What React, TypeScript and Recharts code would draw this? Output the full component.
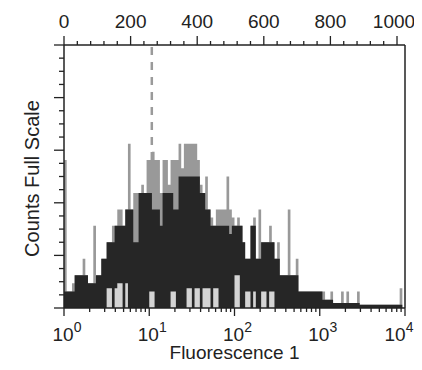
import { ComposedChart, Area, XAxis, YAxis, ReferenceLine, Label } from 'recharts';

// histogram, 32 bins per decade from 10^0 to 10^4
const binsPerDecade = 32;

const bodyCounts = [
  1, 1, 1, 1, 2, 2, 2, 2, 2, 1.5, 1.5, 1.5, 2, 2, 3, 3,
  4, 4, 4, 5, 5, 5, 5, 6, 6, 6, 4, 4, 7, 7, 7, 7,
  7, 6, 6, 6, 5, 7, 7, 7, 7, 6, 6, 8, 8, 8, 8, 8,
  8, 8, 8, 7, 7, 6, 6, 5, 5, 5, 5, 5, 5, 5, 4.5, 5,
  5, 5, 5, 4, 3, 3, 5, 5, 3, 3, 4, 4, 4, 4, 4, 3,
  3, 2, 2, 2, 2, 2, 2, 2, 1, 1, 1, 1, 1, 1, 1, 1,
  1, 0.5, 0.5, 0.5, 0.5, 0.3, 0.3, 0.3, 0.3, 0.3, 0.3, 0.3, 0.3, 0.3, 0.3, 0.2,
  0.2, 0.2, 0.2, 0.2, 0.2, 0.2, 0.2, 0.2, 0.2, 0.2, 0.2, 0.2, 0.2, 0.2, 0.2, 0,
];

const spikeCounts = [
  9, 1, 1, 1.5, 2, 2, 2, 3, 2, 1.5, 1.5, 5, 2, 2, 3, 3,
  4, 4, 5, 5, 6, 6, 5, 6, 10, 6, 7, 7, 7, 7.5, 7, 9,
  9, 9.5, 9, 9, 7, 9, 9, 7.5, 9, 9, 9, 10, 8.5, 10, 10, 10,
  10, 10, 9, 7.5, 7, 8, 6, 5.5, 5, 6, 6, 6, 6, 8, 6, 5.5,
  5, 5.5, 5, 4, 3, 3, 5, 5.5, 3, 6, 4, 4, 4, 5, 4, 3,
  4, 2, 2, 2, 6, 2, 2, 3, 1, 1, 1, 1, 1, 1, 1, 1,
  1, 1, 0.5, 0.5, 1, 0.3, 0.3, 0.3, 1, 0.3, 1, 0.3, 0.3, 0.3, 1, 0.2,
  0.2, 0.2, 0.2, 0.2, 0.2, 0.2, 0.2, 0.2, 0.2, 0.2, 0.2, 0.2, 0.2, 0.2, 1.2, 0,
];

// empty channels near the baseline (light patches under the dark body)
const gapCounts = [
  0, 0, 0, 0, 0, 0, 0, 0, 0, 0, 0, 0, 0, 0, 0, 0,
  1.2, 1.2, 0, 1.2, 1.5, 1.5, 0, 1.5, 0, 0, 0, 0, 0, 0, 0, 0,
  1, 1, 0, 0, 0, 0, 0, 0, 1, 1, 0, 0, 0, 0, 1.2, 1.2,
  0, 1.2, 1.2, 0, 1.2, 1.2, 1.2, 0, 1.2, 1.2, 0, 0, 0, 0, 0, 0,
  2, 2, 0, 0, 1, 1, 0, 1, 0, 0, 1, 1, 0, 1, 1, 0,
];

const decades = [0, 1, 2, 3, 4];
const channelLabels = [0, 200, 400, 600, 800, 1000];
const channelsPerDecade = 256;
const countsMax = 16;
const gateLog = 1.03;

const data = bodyCounts.map((b, i) => ({
  x: i / binsPerDecade,
  body: b,
  spike: Math.max(spikeCounts[i], b),
  gap: [0, Math.min(gapCounts[i] ?? 0, b)],
}));
data.push({ x: 4, body: 0, spike: 0, gap: [0, 0] });

const logTicks: number[] = [];
decades.forEach((d) => {
  logTicks.push(d);
  if (d < 4) for (let m = 2; m < 10; m++) logTicks.push(d + Math.log10(m));
});
// top axis shares the log domain: channel c sits at c / 256 decades
const channelTicks: number[] = [];
for (let c = 0; c <= channelLabels[channelLabels.length - 1]; c += 40) channelTicks.push(c / channelsPerDecade);
const countTicks = Array.from({ length: 21 }, (_, i) => (i * countsMax) / 20);

const font = 'Liberation Sans, Arial, sans-serif';
const ink = '#222';

function LogTick(props: any) {
  const { x, y, payload } = props;
  const v = payload.value;
  const major = Math.abs(v - Math.round(v)) < 1e-6;
  return (
    <g>
      <line x1={x} y1={y} x2={x} y2={y + (major ? 8 : 4)} stroke={ink} strokeWidth={1.3} />
      {major && (
        <text x={x + (v === 4 ? -6 : 3)} y={y + 33} textAnchor="middle" fontSize={19} fontFamily={font} fill={ink}>
          10<tspan dy={-9} fontSize={14}>{Math.round(v)}</tspan>
        </text>
      )}
    </g>
  );
}

function ChannelTick(props: any) {
  const { x, y, payload } = props;
  const channel = Math.round(payload.value * channelsPerDecade);
  const major = channelLabels.includes(channel);
  return (
    <g>
      <line x1={x} y1={y} x2={x} y2={y - (major ? 9 : 4)} stroke={ink} strokeWidth={1.3} />
      {major && (
        <text x={x - (channel === 1000 ? 3 : 0)} y={y - 17} textAnchor="middle" fontSize={19} fontFamily={font} fill={ink}>
          {channel}
        </text>
      )}
    </g>
  );
}

function CountTick(props: any) {
  const { x, y, payload } = props;
  const major = Math.round((payload.value * 20) / countsMax) % 4 === 0;
  return <line x1={x} y1={y} x2={x - (major ? 10 : 5)} y2={y} stroke={ink} strokeWidth={1.3} />;
}

export default function App() {
  return (
    <ComposedChart width={414} height={354} data={data} margin={{ top: 0, right: 17, bottom: 0, left: 0 }}>
      <XAxis
        xAxisId="lin"
        orientation="top"
        dataKey="x"
        type="number"
        domain={[0, 4]}
        allowDataOverflow
        ticks={channelTicks}
        interval={0}
        tickSize={0}
        tickMargin={0}
        tickLine={false}
        height={37}
        axisLine={{ stroke: ink, strokeWidth: 1.5 }}
        tick={(p: any) => <ChannelTick {...p} />}
      />
      <XAxis
        xAxisId="log"
        dataKey="x"
        type="number"
        domain={[0, 4]}
        allowDataOverflow
        ticks={logTicks}
        interval={0}
        tickSize={0}
        tickMargin={0}
        tickLine={false}
        height={54}
        axisLine={{ stroke: ink, strokeWidth: 1.5 }}
        tick={(p: any) => <LogTick {...p} />}
      >
        <Label
          content={(p: any) => (
            <text x={p.viewBox.x + p.viewBox.width / 2} y={p.viewBox.y + 51} textAnchor="middle" fontSize={19} fontFamily={font} fill={ink}>
              Fluorescence 1
            </text>
          )}
        />
      </XAxis>
      <YAxis
        type="number"
        domain={[0, countsMax]}
        allowDataOverflow
        ticks={countTicks}
        interval={0}
        tickSize={0}
        tickMargin={0}
        tickLine={false}
        width={56}
        axisLine={{ stroke: ink, strokeWidth: 1.5 }}
        tick={(p: any) => <CountTick {...p} />}
      >
        <Label
          content={(p: any) => {
            const tx = p.viewBox.x + 31;
            const ty = p.viewBox.y + p.viewBox.height / 2 + 2;
            return (
              <text x={tx} y={ty} transform={`rotate(-90, ${tx}, ${ty})`} textAnchor="middle" fontSize={20} fontFamily={font} fill={ink}>
                Counts Full Scale
              </text>
            );
          }}
        />
      </YAxis>
      <Area
        xAxisId="lin"
        type="stepAfter"
        dataKey="spike"
        stroke="none"
        fill="#999"
        fillOpacity={1}
        dot={false}
        activeDot={false}
        isAnimationActive={false}
      />
      <Area
        xAxisId="log"
        type="stepAfter"
        dataKey="body"
        stroke="none"
        fill="#262626"
        fillOpacity={1}
        dot={false}
        activeDot={false}
        isAnimationActive={false}
      />
      <Area
        xAxisId="log"
        type="stepAfter"
        dataKey="gap"
        stroke="none"
        fill="#d4d4d4"
        fillOpacity={1}
        dot={false}
        activeDot={false}
        isAnimationActive={false}
      />
      <ReferenceLine
        xAxisId="log"
        segment={[{ x: gateLog, y: 9 }, { x: gateLog, y: countsMax }]}
        stroke="#9a9a9a"
        strokeWidth={2.5}
        strokeDasharray="8 7"
      />
      <ReferenceLine xAxisId="log" x={4} stroke={ink} strokeWidth={1.5} />
    </ComposedChart>
  );
}
